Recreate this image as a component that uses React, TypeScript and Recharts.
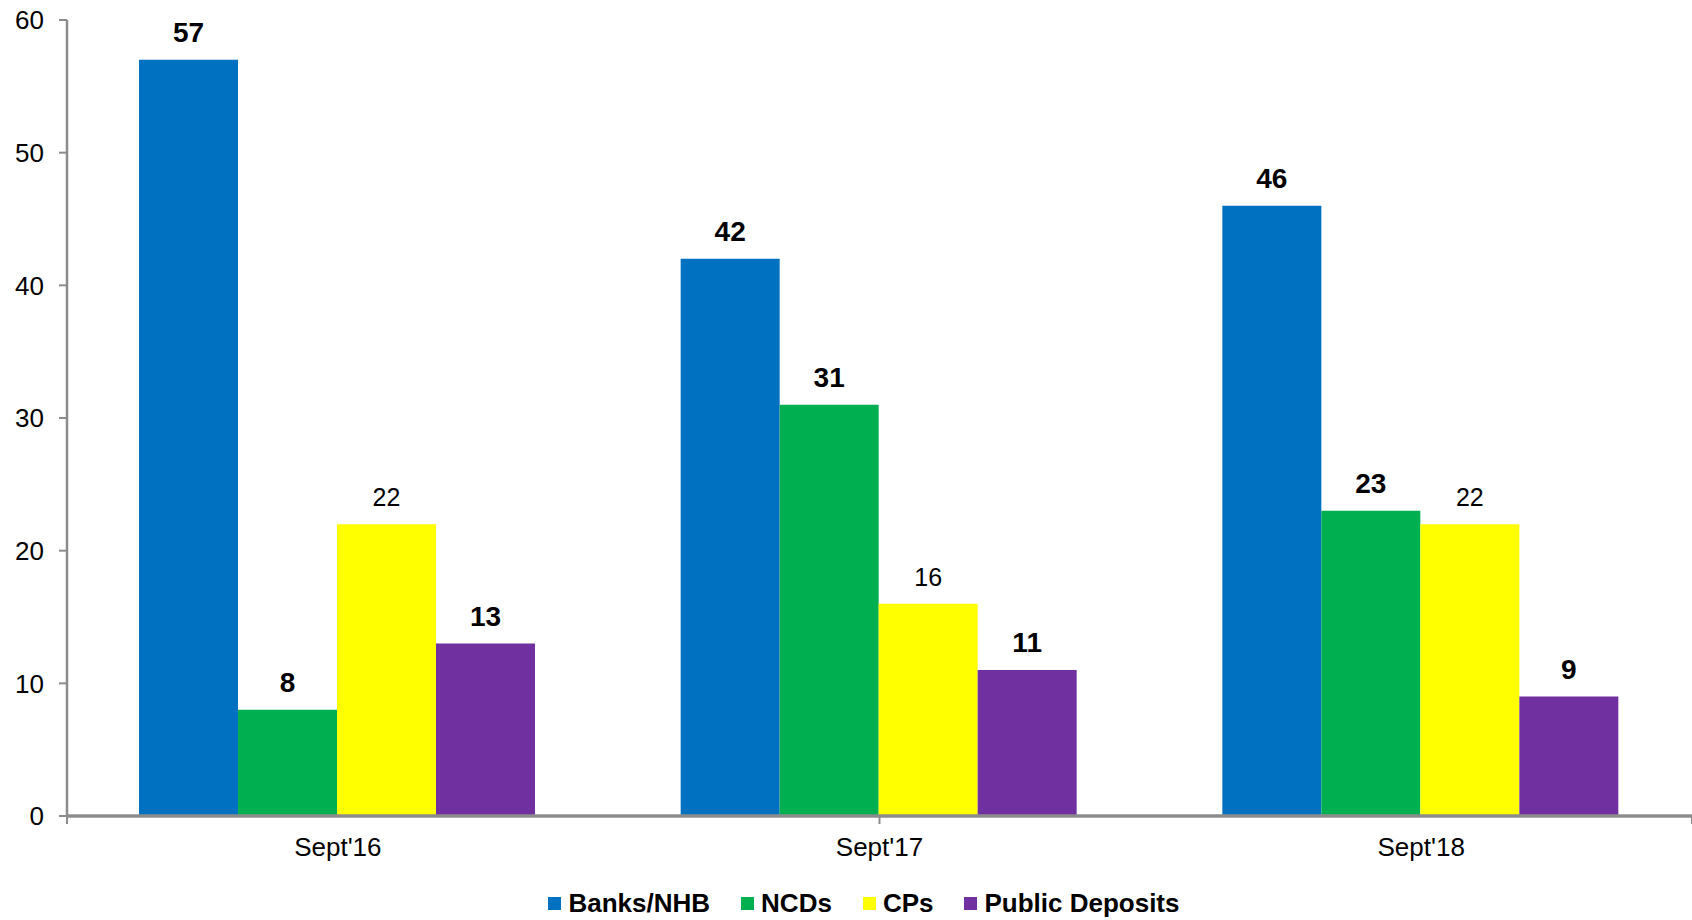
import React from "react";
import { BarChart, Bar, XAxis, YAxis, LabelList, Legend } from "recharts";

const categories = ["Sept'16", "Sept'17", "Sept'18"];
const banksNhb = [57, 42, 46];
const ncds = [8, 31, 23];
const cps = [22, 16, 22];
const publicDeposits = [13, 11, 9];
const yTicks = [0, 10, 20, 30, 40, 50, 60];
const boundaryTicks = [0, 1, 2, 3];

const seriesNames = ["Banks/NHB", "NCDs", "CPs", "Public Deposits"];
const seriesColors = ["#0070C0", "#00B050", "#FFFF00", "#7030A0"];

const data = categories.map((c, i) => ({
  name: c,
  banks: banksNhb[i],
  ncds: ncds[i],
  cps: cps[i],
  pd: publicDeposits[i],
}));

const FONT = "'Liberation Sans', Arial, sans-serif";
const AXIS = "#8c8c8c";

const LegendContent = () => (
  <div
    style={{
      width: 1692,
      height: 34,
      display: "flex",
      justifyContent: "center",
      alignItems: "center",
      paddingLeft: 36,
      boxSizing: "border-box",
      fontFamily: FONT,
      fontWeight: "bold",
      fontSize: 26,
      color: "#000",
    }}
  >
    {seriesNames.map((n, i) => (
      <div key={n} style={{ display: "flex", alignItems: "center", marginRight: i < 3 ? 31 : 0 }}>
        <div style={{ width: 13, height: 13, background: seriesColors[i], marginRight: 7 }} />
        <span>{n}</span>
      </div>
    ))}
  </div>
);

const boldLabel = { fontFamily: FONT, fontSize: 28, fontWeight: "bold", fill: "#000" };
const regLabel = { fontFamily: FONT, fontSize: 25, fill: "#000" };

export default function App() {
  return (
    <div style={{ position: "absolute", left: 0, top: 0, width: 1692, height: 920, background: "#fff" }}>
      <BarChart
        width={1692}
        height={920}
        data={data}
        margin={{ top: 20, right: 0, left: 0, bottom: 0 }}
        barCategoryGap={72}
        barGap={0}
      >
        <XAxis
          xAxisId="b"
          type="number"
          domain={[0, 3]}
          ticks={boundaryTicks}
          interval={0}
          tick={{ fontSize: 1, fill: "none" }}
          tickFormatter={() => ""}
          tickSize={8}
          tickLine={{ stroke: AXIS, strokeWidth: 2 }}
          axisLine={{ stroke: AXIS, strokeWidth: 3.5 }}
          height={8}
        />
        <XAxis
          xAxisId="cat"
          dataKey="name"
          height={62}
          tickSize={0}
          tickLine={false}
          tickMargin={14}
          axisLine={false}
          tick={{ fontFamily: FONT, fontSize: 26, fill: "#000" }}
        />
        <YAxis
          width={67}
          domain={[0, 60]}
          ticks={yTicks}
          interval={0}
          tickSize={8}
          tickMargin={15}
          axisLine={{ stroke: AXIS, strokeWidth: 2.5 }}
          tickLine={{ stroke: AXIS, strokeWidth: 2 }}
          tick={{ fontFamily: FONT, fontSize: 26, fill: "#000" }}
        />
        <Legend verticalAlign="bottom" content={<LegendContent />} wrapperStyle={{ left: 0, width: 1692 }} />
        <Bar xAxisId="cat" dataKey="banks" name={seriesNames[0]} fill={seriesColors[0]} isAnimationActive={false}>
          <LabelList dataKey="banks" position="top" offset={18} style={boldLabel} />
        </Bar>
        <Bar xAxisId="cat" dataKey="ncds" name={seriesNames[1]} fill={seriesColors[1]} isAnimationActive={false}>
          <LabelList dataKey="ncds" position="top" offset={18} style={boldLabel} />
        </Bar>
        <Bar xAxisId="cat" dataKey="cps" name={seriesNames[2]} fill={seriesColors[2]} isAnimationActive={false}>
          <LabelList dataKey="cps" position="top" offset={18} style={regLabel} />
        </Bar>
        <Bar xAxisId="cat" dataKey="pd" name={seriesNames[3]} fill={seriesColors[3]} isAnimationActive={false}>
          <LabelList dataKey="pd" position="top" offset={18} style={boldLabel} />
        </Bar>
      </BarChart>
    </div>
  );
}
